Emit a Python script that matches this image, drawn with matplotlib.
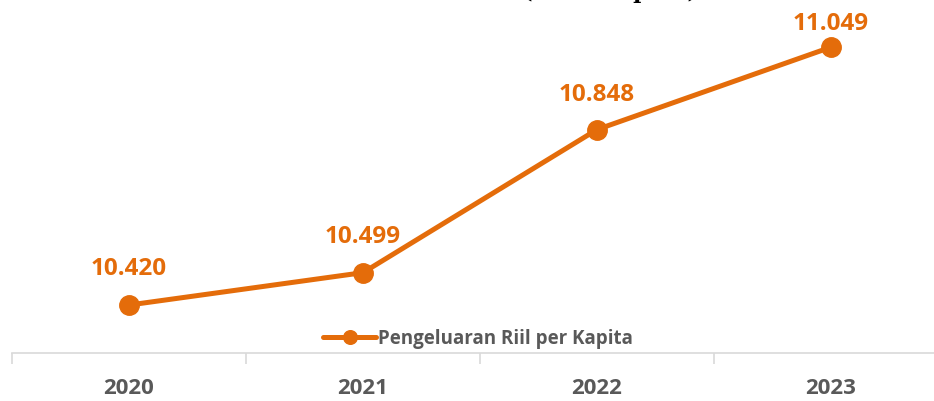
import matplotlib.pyplot as plt

# Data
tahun = ['2020', '2021', '2022', '2023']
pengeluaran = [10.420, 10.499, 10.848, 11.049]
label_nilai = ['10.420', '10.499', '10.848', '11.049']

oranye = '#E46C0A'
abu = '#595959'

fig = plt.figure(figsize=(9.34, 4.01), dpi=100)
# axes: left edge at x=12px, bottom at y=353px (from top)
ax = fig.add_axes([12 / 934, (401 - 353) / 401, 936 / 934, 353 / 401])

x = list(range(len(tahun)))
ax.plot(x, pengeluaran, color=oranye, linewidth=3.6, marker='o',
        markersize=14, label='Pengeluaran Riil per Kapita', solid_capstyle='round')

# label offsets (the last one sits lower, close to the top edge)
offset = [26, 26, 25, 17]
for xi, yi, lab, off in zip(x, pengeluaran, label_nilai, offset):
    ax.annotate(lab, (xi, yi), xytext=(0, off), textcoords='offset points',
                ha='center', va='center', color=oranye, fontsize=17.5,
                fontweight='bold', family='Open Sans')

ax.set_xlim(-0.5, 3.5)
ax.set_ylim(10.303, 11.164)

# axis and ticks
for s in ['top', 'right', 'left']:
    ax.spines[s].set_visible(False)
ax.spines['bottom'].set_color('#D9D9D9')
ax.spines['bottom'].set_linewidth(1.2)
ax.set_yticks([])
ax.set_xticks([-0.5, 0.5, 1.5, 2.5, 3.5])
ax.set_xticklabels([])
ax.tick_params(axis='x', length=8, width=1.2, color='#D9D9D9')
for xi, t in zip(x, tahun):
    ax.text(xi, -0.1, t, transform=ax.get_xaxis_transform(), ha='center',
            va='center', color=abu, fontsize=16, fontweight='bold', family='Open Sans')

leg = ax.legend(loc='center', bbox_to_anchor=(466 / 936, (353 - 339) / 353),
                frameon=False, handlelength=2.8, handletextpad=0.1,
                prop={'family': 'Open Sans', 'weight': 'bold', 'size': 13.5},
                markerscale=0.7)
for t in leg.get_texts():
    t.set_color(abu)

# title, cut off at the top like in the original (only the bottom edge shows)
fig.text(610 / 934, 1 + 2 / 401, '(Ribu Rupiah)', ha='center', va='baseline',
         fontsize=16, family='DejaVu Serif', fontweight='bold', color='black')

fig.savefig('out.png', dpi=100)
